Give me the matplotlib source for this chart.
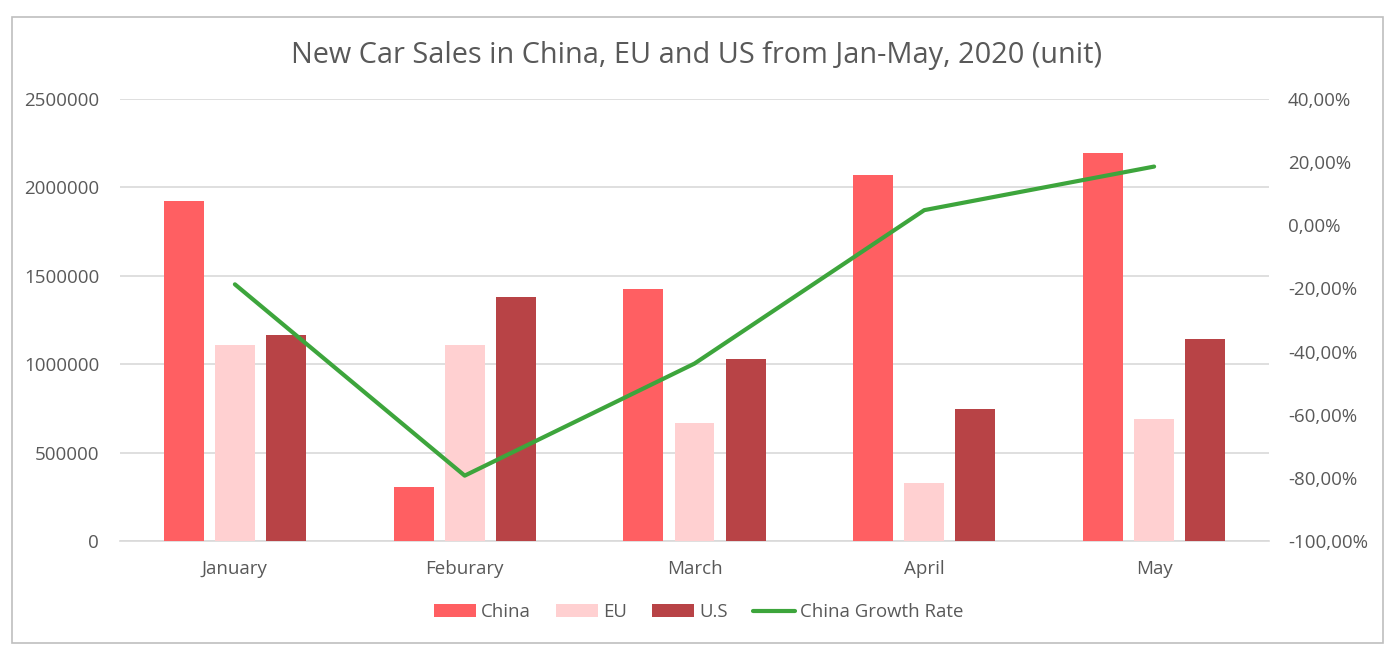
import matplotlib
matplotlib.use("Agg")
import matplotlib.pyplot as plt
from matplotlib.patches import Rectangle
from matplotlib.ticker import FuncFormatter, MultipleLocator
import numpy as np

months = ["January", "Feburary", "March", "April", "May"]
china = [1923000, 305000, 1425000, 2070000, 2195000]
eu = [1108000, 1108000, 667000, 328000, 690000]
us = [1165000, 1380000, 1029000, 747000, 1143000]
growth = [-18.7, -79.3, -43.8, 4.8, 18.6]

C_CHINA = "#FF5F62"
C_EU = "#FFD0D1"
C_US = "#B84346"
C_LINE = "#3DA53C"
TXT = "#595959"
GRID = "#D9D9D9"

plt.rcParams["font.family"] = ["Open Sans", "DejaVu Sans"]

W, H = 1394, 652
fig = plt.figure(figsize=(W / 100, H / 100), dpi=100)
fig.patch.set_facecolor("white")

# outer border
fig.add_artist(Rectangle((12 / W, (H - 643) / H), (1383 - 12) / W, (643 - 17) / H,
                         transform=fig.transFigure, fill=False, edgecolor="#BFBFBF",
                         linewidth=1.2))

left, right, top, bottom = 120, 1269, 99, 541
ax = fig.add_axes([left / W, (H - bottom) / H, (right - left) / W, (bottom - top) / H])
ax2 = ax.twinx()

x = np.arange(len(months))
bw = 0.174
off = 0.222
b1 = ax.bar(x - off, china, bw, color=C_CHINA, label="China", zorder=3)
b2 = ax.bar(x, eu, bw, color=C_EU, label="EU", zorder=3)
b3 = ax.bar(x + off, us, bw, color=C_US, label="U.S", zorder=3)
ln, = ax2.plot(x, growth, color=C_LINE, linewidth=3, solid_capstyle="round",
               solid_joinstyle="round", label="China Growth Rate", zorder=4)

ax.set_xlim(-0.5, len(months) - 0.5)
ax.set_ylim(0, 2500000)
ax.yaxis.set_major_locator(MultipleLocator(500000))
ax.yaxis.set_major_formatter(FuncFormatter(lambda v, p: f"{int(v)}"))
ax2.set_ylim(-100, 40)
ax2.yaxis.set_major_locator(MultipleLocator(20))
ax2.yaxis.set_major_formatter(FuncFormatter(lambda v, p: f"{v:.2f}".replace(".", ",") + "%"))

ax.set_xticks(x)
ax.set_xticklabels(months)
ax.grid(axis="y", color=GRID, linewidth=1.2, zorder=0)
ax.set_axisbelow(True)

for a in (ax, ax2):
    for s in a.spines.values():
        s.set_visible(False)
ax.spines["bottom"].set_visible(True)
ax.spines["bottom"].set_color(GRID)
ax.spines["bottom"].set_linewidth(1.2)

ax.tick_params(axis="y", length=0, pad=15, labelsize=13.5, labelcolor=TXT)
ax.tick_params(axis="x", length=0, pad=14, labelsize=13.5, labelcolor=TXT)
ax2.tick_params(axis="y", length=0, pad=13.7, labelsize=13.5, labelcolor=TXT)

fig.text(697 / W, (H - 63) / H, "New Car Sales in China, EU and US from Jan-May, 2020 (unit)",
         ha="center", va="baseline", fontsize=20.8, color=TXT)

leg = fig.legend([b1, b2, b3, ln], ["China", "EU", "U.S", "China Growth Rate"],
                 loc="center", bbox_to_anchor=(699 / W, (H - 612) / H), ncol=4,
                 frameon=False, fontsize=13.4, handlelength=2.26, handleheight=0.65,
                 handletextpad=0.27, columnspacing=1.35, labelcolor=TXT)

fig.savefig("out.png", dpi=100, facecolor="white")
